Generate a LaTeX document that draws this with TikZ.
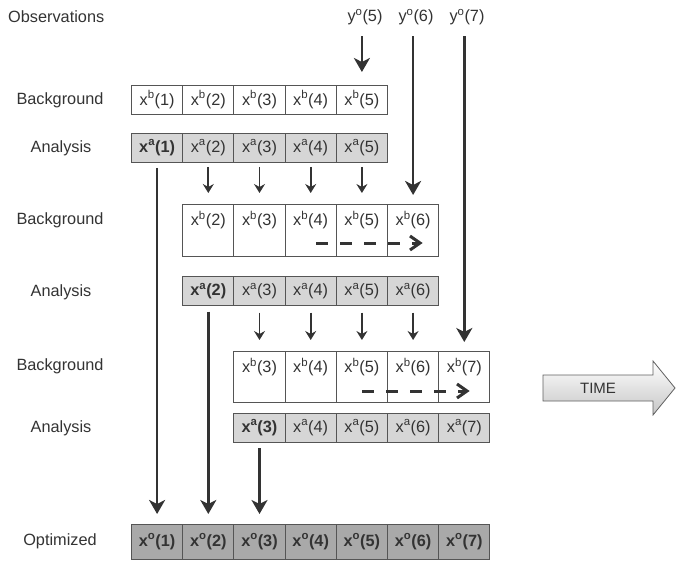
\documentclass[tikz,border=0pt]{standalone}
\usepackage{fontspec}
\setmainfont{Liberation Sans}
\usetikzlibrary{arrows.meta,calc}
\definecolor{ink}{HTML}{333333}
\definecolor{edge}{HTML}{555555}
\definecolor{anfill}{HTML}{D6D6D6}
\definecolor{optfill}{HTML}{A9A9A9}
\begin{document}
\begin{tikzpicture}[x=1pt,y=-1pt,
  every node/.style={font=\fontsize{16.3}{19}\selectfont, text=ink},
  cell/.style={draw=edge, line width=0.9pt, minimum width=51.2pt, minimum height=29pt, inner sep=0pt, outer sep=0pt, fill=white},
  tallcell/.style={cell, minimum height=52pt},
  ancell/.style={cell, fill=anfill},
  optcell/.style={cell, fill=optfill, minimum height=35pt},
  celltext/.style={inner sep=0pt},
  rowlabel/.style={inner sep=0pt},
  bigarrow/.style={draw=ink, line width=2.6pt, -{Stealth[length=14pt,width=16pt,inset=4pt]}},
  smallarrow/.style={draw=ink, line width=1.7pt, -{Stealth[length=9pt,width=11pt,inset=3pt]}},
  dashline/.style={draw=ink, line width=3pt, dash pattern=on 12pt off 12pt},
  chevron/.style={draw=ink, line width=3pt, line join=miter, line cap=butt},
]
\useasboundingbox (0,0) rectangle (676,561);

% row labels
\node[rowlabel, anchor=west] (lobs) at (8,17) {Observations};
\node[rowlabel] (lbg1) at (60,100) {Background};
\node[rowlabel] (lan1) at (61,148) {Analysis};
\node[rowlabel] (lbg2) at (60,220) {Background};
\node[rowlabel] (lan2) at (61,292) {Analysis};
\node[rowlabel] (lbg3) at (60,366) {Background};
\node[rowlabel] (lan3) at (61,428) {Analysis};
\node[rowlabel] (lopt) at (60,541) {Optimized};

% observations
\node[celltext] (obs5) at (365,17) {y\textsuperscript{o}(5)};
\node[celltext] (obs6) at (416,17) {y\textsuperscript{o}(6)};
\node[celltext] (obs7) at (467,17) {y\textsuperscript{o}(7)};

% first background / analysis
\foreach \k in {1,...,5}{
  \node[cell] (bgA\k) at ({131.5+(\k-0.5)*51.2},99.5) {x\textsuperscript{b}(\k)};
}
\node[ancell] (anA1) at ({131.5+0.5*51.2},147.5) {\textbf{x\textsuperscript{a}(1)}};
\foreach \k in {2,...,5}{
  \node[ancell] (anA\k) at ({131.5+(\k-0.5)*51.2},147.5) {x\textsuperscript{a}(\k)};
}

% second background / analysis
\foreach \k in {2,...,6}{
  \node[tallcell] (bgB\k) at ({131.5+(\k-0.5)*51.2},230) {};
  \node[celltext] (tB\k) at ({131.5+(\k-0.5)*51.2},220) {x\textsuperscript{b}(\k)};
}
\node[ancell] (anB2) at ({131.5+1.5*51.2},291) {\textbf{x\textsuperscript{a}(2)}};
\foreach \k in {3,...,6}{
  \node[ancell] (anB\k) at ({131.5+(\k-0.5)*51.2},291) {x\textsuperscript{a}(\k)};
}

% third background / analysis
\foreach \k in {3,...,7}{
  \node[tallcell, minimum height=51pt] (bgC\k) at ({131.5+(\k-0.5)*51.2},376.5) {};
  \node[celltext] (tC\k) at ({131.5+(\k-0.5)*51.2},367) {x\textsuperscript{b}(\k)};
}
\node[ancell] (anC3) at ({131.5+2.5*51.2},427.5) {\textbf{x\textsuperscript{a}(3)}};
\foreach \k in {4,...,7}{
  \node[ancell] (anC\k) at ({131.5+(\k-0.5)*51.2},427.5) {x\textsuperscript{a}(\k)};
}

% optimized
\foreach \k in {1,...,7}{
  \node[optcell] (opt\k) at ({131.5+(\k-0.5)*51.2},541.5) {\textbf{x\textsuperscript{o}(\k)}};
}

% observation arrows
\draw[bigarrow, shorten <=11pt, shorten >=13pt] (obs5.south -| bgA5.north) -- (bgA5.north);
\draw[bigarrow, shorten <=11pt, shorten >=9pt] (obs6.south -| bgB6.north) -- (bgB6.north);
\draw[bigarrow, shorten <=11pt, shorten >=9pt] (obs7.south -| bgC7.north) -- (bgC7.north);

% propagation arrows
\foreach \k in {2,...,5}{
  \draw[smallarrow, shorten <=5pt, shorten >=11pt] (anA\k.south) -- (bgB\k.north);
}
\foreach \k in {3,...,6}{
  \draw[smallarrow, shorten <=7pt, shorten >=11pt] (anB\k.south) -- (bgC\k.north);
}

% long arrows to optimized
\draw[bigarrow, shorten <=6pt, shorten >=10pt] (anA1.south) -- (anA1.south |- opt1.north);
\draw[bigarrow, shorten <=6pt, shorten >=10pt] (anB2.south) -- (anB2.south |- opt2.north);
\draw[bigarrow, shorten <=6pt, shorten >=10pt] (anC3.south) -- (anC3.south |- opt3.north);

% dashed arrows
\coordinate (dB0) at (316,243);
\coordinate (dB1) at (420,243);
\coordinate (dC0) at (362,391);
\coordinate (dC1) at (467,391);
\draw[dashline] (dB0) -- ($(dB1)+(-2,0)$);
\draw[chevron] ($(dB1)+(-10,-7)$) -- (dB1) -- ($(dB1)+(-10,7)$);
\draw[dashline] (dC0) -- ($(dC1)+(-2,0)$);
\draw[chevron] ($(dC1)+(-10,-7)$) -- (dC1) -- ($(dC1)+(-10,7)$);

% TIME arrow
\shade[top color=white, bottom color=gray!45, draw=gray!75!black, line width=0.8pt, line join=miter]
  (543,375) -- (653,375) -- (653,361) -- (675,388) -- (653,415) -- (653,401) -- (543,401) -- cycle;
\node[celltext, font=\fontsize{15}{17}\selectfont] (time) at (598,388.5) {TIME};
\end{tikzpicture}
\end{document}
